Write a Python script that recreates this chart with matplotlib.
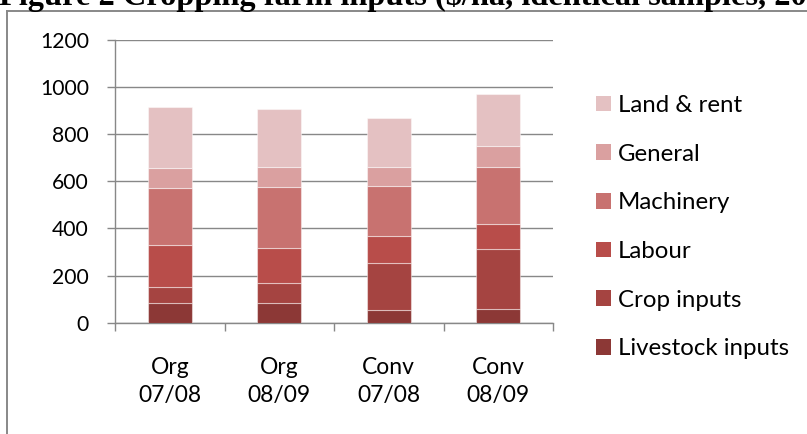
import matplotlib
matplotlib.use("Agg")
import matplotlib.pyplot as plt
from matplotlib.patches import Patch
from matplotlib.lines import Line2D
import numpy as np

categories = ["Org\n07/08", "Org\n08/09", "Conv\n07/08", "Conv\n08/09"]
series_names = ["Livestock inputs", "Crop inputs", "Labour", "Machinery", "General", "Land & rent"]
livestock = [83, 83, 55, 60]
crop = [70, 87, 200, 251]
labour = [177, 147, 115, 110]
machinery = [243, 260, 209, 241]
general = [84, 84, 83, 89]
land = [258, 244, 207, 220]
series_values = [livestock, crop, labour, machinery, general, land]
colors = ["#8C3836", "#A54441", "#B84D4A", "#C87270", "#DAA0A0", "#E4C1C2"]
yticks = [0, 200, 400, 600, 800, 1000, 1200]

W, H = 807, 434
fig = plt.figure(figsize=(W / 100, H / 100), dpi=100)
plt.rcParams['font.family'] = ['Lato', 'DejaVu Sans']

grid_c = "#888888"
ax = fig.add_axes([115 / W, 1 - 322.7 / H, (553 - 115) / W, (322.7 - 40) / H])

x = np.arange(len(categories)) + 0.5
bottom = np.zeros(len(categories))
for name, vals, c in zip(series_names, series_values, colors):
    ax.bar(x, vals, width=0.4, bottom=bottom, color=c, edgecolor=(1, 1, 1, 0.45),
           linewidth=0.8, zorder=3, label=name)
    bottom += np.array(vals)

ax.set_xlim(0, 4)
ax.set_ylim(0, 1200)
ax.set_yticks(yticks)
ax.set_yticklabels([str(v) for v in yticks], fontsize=15.2)
ax.yaxis.grid(True, color=grid_c, linewidth=1.0, zorder=0)
ax.set_axisbelow(True)
ax.tick_params(axis='y', direction='out', length=5.8, width=1.0, color=grid_c, pad=13, labelcolor='black')

ax.set_xticks(np.arange(5))
ax.set_xticklabels([])
ax.set_xticks(x, minor=True)
ax.set_xticklabels(categories, minor=True, fontsize=16.5, linespacing=1.36)
ax.tick_params(axis='x', which='major', direction='out', length=5.8, width=1.0, color=grid_c)
ax.tick_params(axis='x', which='minor', length=0, pad=25)

for s in ['top', 'right']:
    ax.spines[s].set_visible(False)
for s in ['left', 'bottom']:
    ax.spines[s].set_color(grid_c)
    ax.spines[s].set_linewidth(1.0)

handles = [Patch(facecolor=c, edgecolor='none', label=n) for n, c in zip(series_names, colors)][::-1]
fig.legend(handles=handles, loc='upper left', bbox_to_anchor=(596 / W, 1 - 95 / H),
           frameon=False, fontsize=17.3, handlelength=0.625, handleheight=0.625,
           handletextpad=0.3, labelspacing=1.15, borderpad=0, borderaxespad=0)

# outer chart border (partly outside the image)
fig.add_artist(Line2D([7 / W, 7 / W], [-0.1, 1 - 11 / H], transform=fig.transFigure,
                      color=grid_c, linewidth=1.4))
fig.add_artist(Line2D([7 / W, 1.1], [1 - 11 / H, 1 - 11 / H], transform=fig.transFigure,
                      color=grid_c, linewidth=1.4))

fig.text(-1 / W, 1 - 5.5 / H, "Figure 2 Cropping farm inputs ($/ha, identical samples, 2007/08 and 2008/09)",
         family='Liberation Serif', fontweight='bold', fontsize=23.3, va='baseline', ha='left')

fig.savefig("out.png", dpi=100)
